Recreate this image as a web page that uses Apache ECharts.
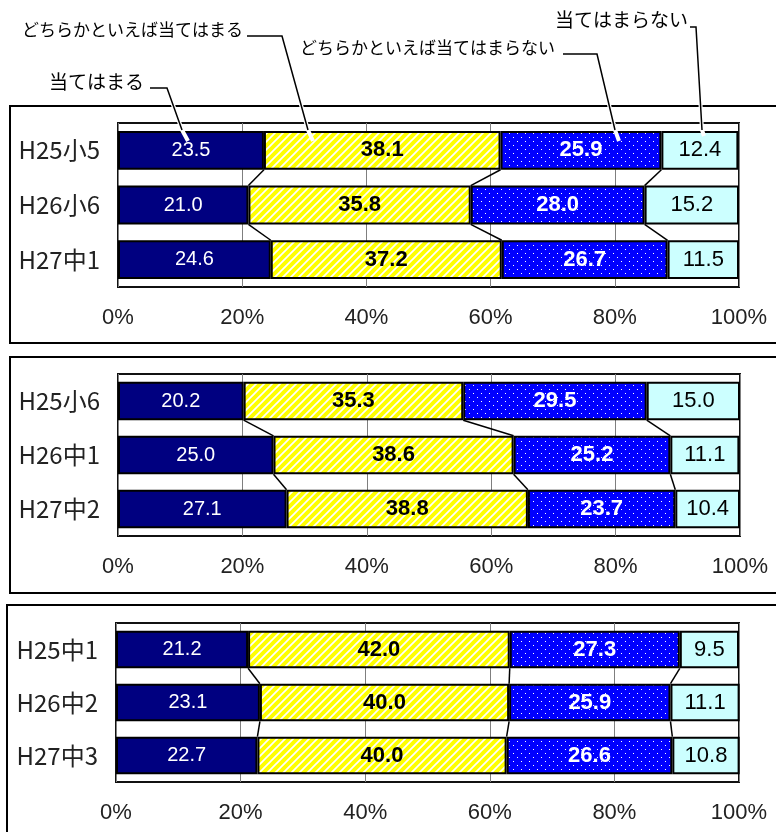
<!DOCTYPE html>
<html>
<head>
<meta charset="utf-8">
<script src="https://cdn.jsdelivr.net/npm/echarts@6/dist/echarts.min.js"></script>
<style>
  html, body { margin: 0; padding: 0; background: #ffffff; }
  #chart { width: 776px; height: 832px; }
</style>
</head>
<body>
<div id="chart"></div>
<script>
// Response categories (stacked left to right)
const seriesNames = ['当てはまる', 'どちらかといえば当てはまる', 'どちらかといえば当てはまらない', '当てはまらない'];

// Cohort A: H25小5 -> H26小6 -> H27中1
const catsA = ['H25小5', 'H26小6', 'H27中1'];
const fitA = [23.5, 21.0, 24.6];
const ratherFitA = [38.1, 35.8, 37.2];
const ratherNotA = [25.9, 28.0, 26.7];
const notFitA = [12.4, 15.2, 11.5];

// Cohort B: H25小6 -> H26中1 -> H27中2
const catsB = ['H25小6', 'H26中1', 'H27中2'];
const fitB = [20.2, 25.0, 27.1];
const ratherFitB = [35.3, 38.6, 38.8];
const ratherNotB = [29.5, 25.2, 23.7];
const notFitB = [15.0, 11.1, 10.4];

// Cohort C: H25中1 -> H26中2 -> H27中3
const catsC = ['H25中1', 'H26中2', 'H27中3'];
const fitC = [21.2, 23.1, 22.7];
const ratherFitC = [42.0, 40.0, 40.0];
const ratherNotC = [27.3, 25.9, 26.6];
const notFitC = [9.5, 11.1, 10.8];

// Percent axis ticks
const percentTicks = [0, 20, 40, 60, 80, 100];

// ---- fill patterns ----
function stripeTile() {
  const c = document.createElement('canvas');
  c.width = 8; c.height = 8;
  const g = c.getContext('2d');
  g.fillStyle = '#FFFF00';
  g.fillRect(0, 0, 8, 8);
  g.strokeStyle = '#ffffff';
  g.lineWidth = 1.7;
  g.beginPath();
  g.moveTo(-2, 10); g.lineTo(10, -2);
  g.moveTo(-2, 2); g.lineTo(2, -2);
  g.moveTo(6, 10); g.lineTo(10, 6);
  g.stroke();
  return c;
}
function dotTile() {
  const c = document.createElement('canvas');
  c.width = 8; c.height = 8;
  const g = c.getContext('2d');
  g.fillStyle = '#0000FF';
  g.fillRect(0, 0, 8, 8);
  g.fillStyle = '#ffffff';
  g.fillRect(1, 1, 1, 1);
  g.fillRect(5, 5, 1, 1);
  return c;
}

const fills = [
  '#000080',
  { image: stripeTile(), repeat: 'repeat' },
  { image: dotTile(), repeat: 'repeat' },
  '#CCFFFF'
];
const labelStyles = [
  { color: '#ffffff', fontWeight: 'normal', fontSize: 20 },
  { color: '#000000', fontWeight: 'bold', fontSize: 22 },
  { color: '#ffffff', fontWeight: 'bold', fontSize: 22 },
  { color: '#000000', fontWeight: 'normal', fontSize: 22 }
];

const panels = [
  { cats: catsA, vals: [fitA, ratherFitA, ratherNotA, notFitA] },
  { cats: catsB, vals: [fitB, ratherFitB, ratherNotB, notFitB] },
  { cats: catsC, vals: [fitC, ratherFitC, ratherNotC, notFitC] }
];
const gridBoxes = [
  { left: 118, top: 123, width: 621, height: 164 },
  { left: 118, top: 374, width: 622, height: 162 },
  { left: 116, top: 623, width: 623, height: 159 }
];
const barRatio = 0.71;

const grids = [], xAxes = [], yAxes = [], series = [];

panels.forEach((p, pi) => {
  grids.push(Object.assign({
    show: true, borderColor: '#111', borderWidth: 2, backgroundColor: '#ffffff'
  }, gridBoxes[pi]));

  xAxes.push({
    type: 'value', gridIndex: pi, min: 0, max: 100, interval: 20,
    axisLine: { show: false }, axisTick: { show: false },
    splitLine: { show: true, lineStyle: { color: '#7f7f7f', width: 1 } },
    axisLabel: {
      margin: 20,
      fontFamily: '"Liberation Sans Narrow", "Liberation Sans", sans-serif',
      fontSize: 22, color: '#222',
      formatter: v => (percentTicks.indexOf(v) >= 0 ? v + '%' : '')
    }
  });

  yAxes.push({
    type: 'category', gridIndex: pi, data: p.cats, inverse: true,
    axisLine: { show: false }, axisTick: { show: false },
    axisLabel: {
      margin: 18, fontFamily: '"Noto Sans CJK JP", sans-serif',
      fontSize: 24, color: '#222'
    }
  });

  p.vals.forEach((vals, si) => {
    series.push({
      type: 'bar', name: seriesNames[si], stack: 'panel' + pi,
      xAxisIndex: pi, yAxisIndex: pi,
      barWidth: (barRatio * 100) + '%',
      data: vals,
      itemStyle: { color: fills[si], borderColor: '#000', borderWidth: 2 },
      label: Object.assign({
        show: true, position: 'inside',
        fontFamily: '"Liberation Sans", Arial, sans-serif',
        formatter: prm => Number(prm.value).toFixed(1)
      }, labelStyles[si]),
      z: 3
    });
  });

  // connector lines joining the segment boundaries of neighbouring bars
  const links = [];
  for (let i = 0; i < p.cats.length - 1; i++) {
    let cumA = 0, cumB = 0;
    for (let s = 0; s < p.vals.length - 1; s++) {
      cumA += p.vals[s][i];
      cumB += p.vals[s][i + 1];
      links.push([cumA, cumB, i]);
    }
  }
  series.push({
    type: 'custom', xAxisIndex: pi, yAxisIndex: pi,
    encode: { x: [0, 1], y: 2 },
    data: links, silent: true, z: 4,
    renderItem: (params, api) => {
      const c = api.value(2);
      const p0 = api.coord([api.value(0), c]);
      const p1 = api.coord([api.value(1), c + 1]);
      const half = api.size([0, 1])[1] * barRatio / 2;
      return {
        type: 'line',
        shape: { x1: p0[0], y1: p0[1] + half, x2: p1[0], y2: p1[1] - half },
        style: { stroke: '#000', lineWidth: 1.5 }
      };
    }
  });
});

// ---- panel frames and callout labels ----
const textFont = '"Noto Sans CJK JP", sans-serif';
const callouts = [
  { text: seriesNames[0], tx: 144, ty: 82, size: 19, pts: [[150, 88], [167, 88], [182, 130]], tail: [188, 141] },
  { text: seriesNames[1], tx: 243, ty: 30, size: 17, pts: [[247, 36], [282, 36], [308, 130]], tail: [313, 141] },
  { text: seriesNames[2], tx: 555, ty: 48, size: 17, pts: [[563, 54], [597, 54], [615, 130]], tail: [619, 141] },
  { text: seriesNames[3], tx: 688, ty: 20, size: 19, pts: [[690, 27], [696, 27], [702, 130]], tail: [704, 136] }
];

const graphics = [
  { type: 'rect', shape: { x: 10, y: 106, width: 800, height: 237 }, style: { fill: null, stroke: '#000', lineWidth: 2 }, z: 0 },
  { type: 'rect', shape: { x: 10, y: 357, width: 800, height: 236 }, style: { fill: null, stroke: '#000', lineWidth: 2 }, z: 0 },
  { type: 'rect', shape: { x: 7, y: 605, width: 800, height: 300 }, style: { fill: null, stroke: '#000', lineWidth: 2 }, z: 0 }
];
callouts.forEach(c => {
  graphics.push({
    type: 'text', x: c.tx, y: c.ty, z: 100,
    style: { text: c.text, font: c.size + 'px ' + textFont, fill: '#000', textAlign: 'right', textVerticalAlign: 'middle', verticalAlign: 'middle' }
  });
  graphics.push({
    type: 'polyline', z: 100,
    shape: { points: c.pts.concat([c.tail]) },
    style: { stroke: '#fff', lineWidth: 4, fill: null }
  });
  graphics.push({
    type: 'polyline', z: 101,
    shape: { points: c.pts },
    style: { stroke: '#000', lineWidth: 1.5, fill: null }
  });
});

const chart = echarts.init(document.getElementById('chart'), null, { renderer: 'canvas' });
chart.setOption({
  animation: false,
  backgroundColor: '#ffffff',
  grid: grids,
  xAxis: xAxes,
  yAxis: yAxes,
  series: series,
  graphic: { elements: graphics }
});
</script>
</body>
</html>
